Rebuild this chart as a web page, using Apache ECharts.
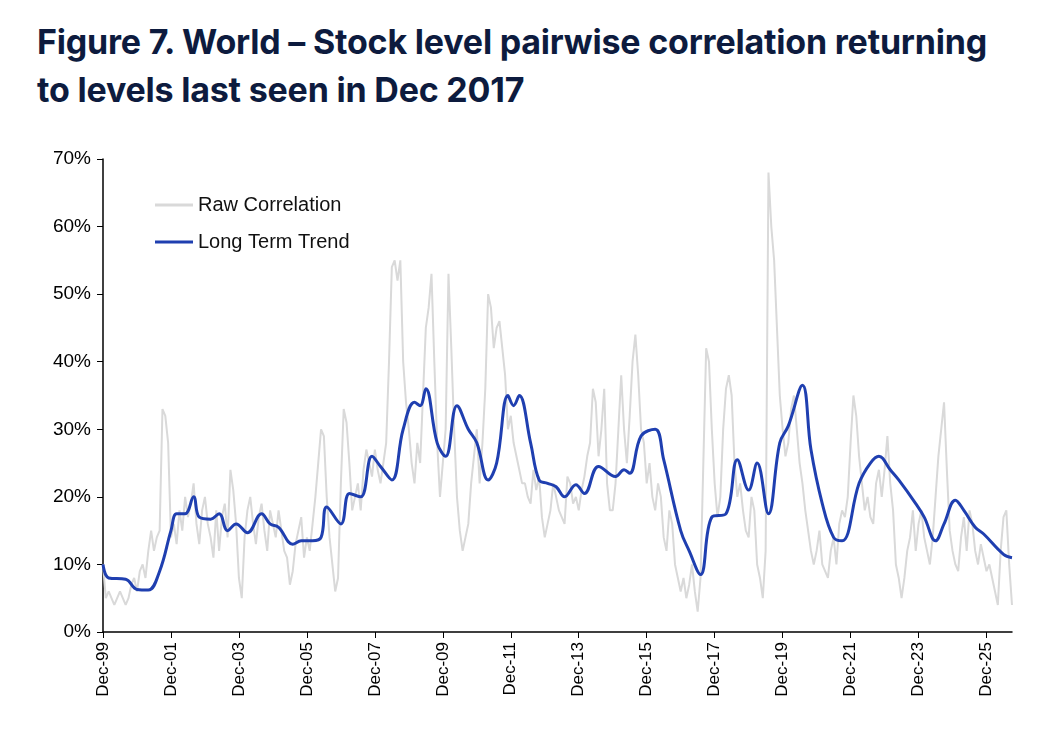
<!DOCTYPE html>
<html>
<head>
<meta charset="utf-8">
<script src="https://cdn.jsdelivr.net/npm/echarts@6/dist/echarts.min.js"></script>
<style>
  html, body { margin: 0; padding: 0; background: #fff; }
  #title { position: absolute; left: 37px; top: 18px; font-family: Inter, "Noto Sans", sans-serif; font-weight: 700; font-size: 34px; line-height: 48px; color: #0d1b3e; letter-spacing: -0.2px; }
  #chart { width: 1044px; height: 736px; }
</style>
</head>
<body>
<div id="title">Figure 7. World – Stock level pairwise correlation returning<br>to levels last seen in Dec 2017</div>
<div id="chart"></div>
<script>
// monthly raw correlation (%), Dec-99 onwards
const rawValues = [
  10,5,6,5,4,5,6,5,4,5,7,8,
  6,9,10,8,12,15,12,14,15,33,32,28,
  14,16,13,18,15,20,17,19,22,16,13,18,
  20,16,14,11,18,12,17,19,14,24,21,16,
  8,5,14,18,20,16,13,17,19,15,12,18,
  16,14,18,15,12,11,7,9,13,15,17,11,
  14,12,16,20,25,30,29,20,14,10,6,8,
  22,33,31,25,18,20,22,18,24,27,25,23,
  27,24,22,25,28,40,54,55,52,55,40,34,
  30,25,22,28,25,35,45,48,53,40,28,20,
  25,30,53,42,30,20,15,12,14,16,22,26,
  30,22,28,36,50,48,42,45,46,42,38,30,
  32,28,26,24,22,22,20,19,24,21,23,17,
  14,16,18,22,20,18,17,16,23,22,19,20,
  18,21,23,26,28,36,34,26,30,36,22,18,
  18,22,30,38,30,25,32,40,44,38,30,28,
  22,25,20,18,22,20,14,12,18,16,10,8,
  6,8,5,7,10,6,3,8,25,42,40,30,
  22,17,20,30,36,38,35,25,20,22,18,15,
  14,20,18,10,8,5,12,68,60,55,45,35,
  30,26,28,33,35,30,25,22,18,15,12,10,
  12,15,10,9,8,12,14,10,16,18,17,20,
  28,35,32,26,22,18,20,17,16,22,24,20,
  24,29,22,18,10,8,5,8,12,14,18,12,
  16,18,14,12,10,14,20,26,30,34,24,15,
  12,10,9,14,17,12,18,16,12,10,13,11,
  9,10,8,6,4,12,17,18,10,4
];
// long term trend key points: month index, value (%)
const trendIdx = [0,2,8,12,16,20,24,26,29,32,34,38,41,44,47,51,56,59,62,67,70,74,77,79,84,87,91,95,98,102,106,110,112,114,118,121,125,129,132,136,139,143,145,147,151,154,157,160,163,167,170,175,181,184,186,190,195,198,204,207,211,215,220,224,228,231,235,239,242,247,250,254,258,261,267,271,274,278,281,287,290,294,297,301,304,308,311,318,321];
const trendValues = [10,8,7.8,6.3,6.2,9,15,17.5,17.5,20,17,16.7,17.5,15,16,14.7,17.5,16,15.5,13,13.5,13.5,14,18.5,16,20.5,20,26,24.5,22.5,30,34,33.5,36,28,26,33.5,30,28,22.5,25,35,33.5,35,28,22.5,22,21.5,20,21.8,20.5,24.5,23,24,23.5,29,30,25.5,15,12,8.5,17,17.5,25.5,21,25,17.5,28,30.5,36.5,27,19,14,13.5,22,25,26,24,22.5,19,17,13.5,16,19.5,18,15.5,14.5,11.5,11];
const yTicks = [0,10,20,30,40,50,60,70];

const months = ['Jan','Feb','Mar','Apr','May','Jun','Jul','Aug','Sep','Oct','Nov','Dec'];
const categories = rawValues.map((_, i) => {
  const m = (11 + i) % 12;
  const y = 1999 + Math.floor((11 + i) / 12);
  return months[m] + '-' + String(y % 100).padStart(2, '0');
});

const chart = echarts.init(document.getElementById('chart'));
chart.setOption({
  animation: false,
  textStyle: { fontFamily: 'Liberation Sans, Arial, sans-serif' },
  grid: { left: 103, right: 32, top: 159, bottom: 104 },
  legend: {
    orient: 'vertical', left: 150, top: 190, itemGap: 17, itemWidth: 38, itemHeight: 3,
    textStyle: { fontSize: 20, color: '#111' },
    data: [
      { name: 'Raw Correlation', icon: 'rect' },
      { name: 'Long Term Trend', icon: 'rect' }
    ]
  },
  xAxis: {
    type: 'category', data: categories, boundaryGap: false,
    axisLine: { lineStyle: { color: '#000', width: 1.5 } },
    axisTick: { interval: 23, length: 6, lineStyle: { color: '#000' } },
    axisLabel: { interval: 23, rotate: 90, fontSize: 17, color: '#000', margin: 10 }
  },
  yAxis: {
    type: 'value', min: yTicks[0], max: yTicks[yTicks.length - 1], interval: 10,
    splitLine: { show: false },
    axisLine: { show: true, lineStyle: { color: '#000', width: 1.5 } },
    axisTick: { show: true, length: 6, lineStyle: { color: '#000' } },
    axisLabel: { fontSize: 19, color: '#000', margin: 12, formatter: v => v + '%' }
  },
  series: [
    {
      name: 'Raw Correlation', type: 'line', data: rawValues, showSymbol: false,
      lineStyle: { color: '#d9d9d9', width: 2 }, itemStyle: { color: '#d9d9d9' }
    },
    {
      name: 'Long Term Trend', type: 'line', smooth: 0.4, showSymbol: false,
      data: trendIdx.map((x, i) => [x, trendValues[i]]),
      lineStyle: { color: '#1f3fb0', width: 3 }, itemStyle: { color: '#1f3fb0' }
    }
  ]
});
</script>
</body>
</html>
